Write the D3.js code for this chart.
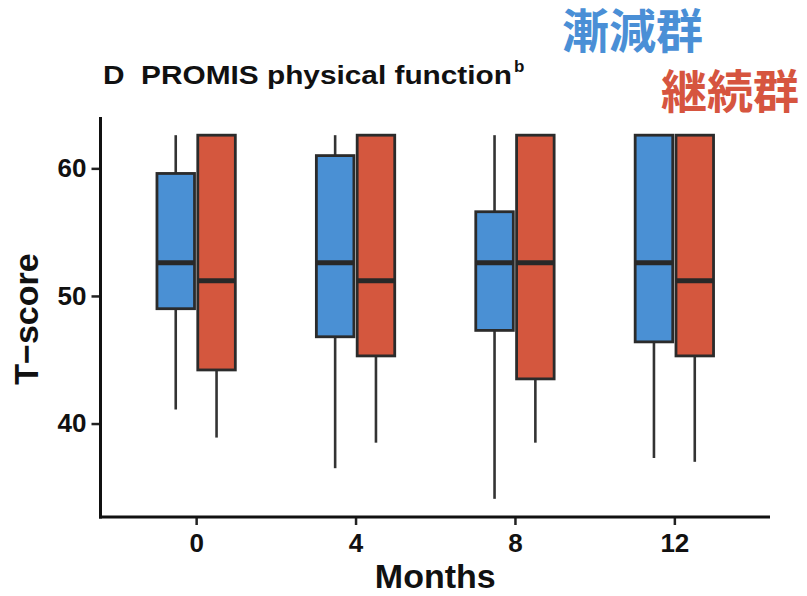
<!DOCTYPE html>
<html>
<head>
<meta charset="utf-8">
<script src="https://cdn.jsdelivr.net/npm/d3@7"></script>
<style>
  html, body { margin: 0; padding: 0; background: #ffffff; }
  svg { display: block; }
  text { font-family: "Liberation Sans", Arial, Helvetica, sans-serif; font-weight: bold; }
  .cjk { font-family: "Noto Sans CJK JP", "Noto Sans CJK SC", sans-serif; font-weight: bold; }
</style>
</head>
<body>
<svg id="chart" width="807" height="596"></svg>
<script>
// ---- data ----
const months = ["0", "4", "8", "12"];
const groups = ["漸減群", "継続群"];
const yTicks = [40, 50, 60];

// 漸減群 (taper group, blue)
const taperMin    = [41.1, 36.5, 34.1, 37.3];
const taperQ1     = [49.0, 46.8, 47.3, 46.4];
const taperMedian = [52.6, 52.6, 52.6, 52.6];
const taperQ3     = [59.6, 61.0, 56.6, 62.6];
const taperMax    = [62.6, 62.6, 62.6, 62.6];

// 継続群 (continuation group, red)
const contMin    = [38.9, 38.5, 38.5, 37.0];
const contQ1     = [44.2, 45.3, 43.5, 45.3];
const contMedian = [51.2, 51.2, 52.6, 51.2];
const contQ3     = [62.6, 62.6, 62.6, 62.6];
const contMax    = [62.6, 62.6, 62.6, 62.6];

const colors = ["#4a90d4", "#d4573e"];
const textColors = ["#4a8fd6", "#d6553f"];

// ---- build table ----
const series = [
  { min: taperMin, q1: taperQ1, med: taperMedian, q3: taperQ3, max: taperMax },
  { min: contMin,  q1: contQ1,  med: contMedian,  q3: contQ3,  max: contMax }
];
const boxes = [];
months.forEach((m, i) => {
  series.forEach((s, g) => {
    boxes.push({ month: m, group: g, min: s.min[i], q1: s.q1[i], med: s.med[i], q3: s.q3[i], max: s.max[i] });
  });
});

const svg = d3.select("#chart");
const pLeft = 100.5, pRight = 770, pTop = 117, pBottom = 517;

const allVals = boxes.flatMap(b => [b.min, b.max]);
const lo = d3.min(allVals), hi = d3.max(allVals);
const pad = (hi - lo) * 0.05;
const y = d3.scaleLinear().domain([lo - pad, hi + pad]).range([pBottom, pTop]);
const x = d3.scalePoint().domain(months).range([pLeft, pRight]).padding(0.6);
const dodge = d3.scaleBand().domain([0, 1]).range([-40, 40]).paddingInner(0.08).paddingOuter(0.02);

// ---- boxes ----
const g = svg.append("g");
const bw = dodge.bandwidth();
boxes.forEach(b => {
  const bx = x(b.month) + dodge(b.group);
  const cx = bx + bw / 2;
  g.append("line").attr("x1", cx).attr("x2", cx).attr("y1", y(b.max)).attr("y2", y(b.q3))
    .attr("stroke", "#333").attr("stroke-width", 2.6);
  g.append("line").attr("x1", cx).attr("x2", cx).attr("y1", y(b.q1)).attr("y2", y(b.min))
    .attr("stroke", "#333").attr("stroke-width", 2.6);
  g.append("rect").attr("x", bx).attr("y", y(b.q3)).attr("width", bw).attr("height", y(b.q1) - y(b.q3))
    .attr("fill", colors[b.group]).attr("stroke", "#2b2b2b").attr("stroke-width", 2.8);
  g.append("line").attr("x1", bx).attr("x2", bx + bw).attr("y1", y(b.med)).attr("y2", y(b.med))
    .attr("stroke", "#282828").attr("stroke-width", 5);
});

// ---- axes ----
const yAxis = svg.append("g").attr("transform", `translate(${pLeft},0)`)
  .call(d3.axisLeft(y).tickValues(yTicks).tickSize(9).tickPadding(5));
const xAxis = svg.append("g").attr("transform", `translate(0,${pBottom})`)
  .call(d3.axisBottom(x).tickSize(8).tickPadding(9));
[yAxis, xAxis].forEach(a => {
  a.select(".domain").remove();
  a.selectAll(".tick line").attr("stroke", "#222").attr("stroke-width", 2.5);
  a.selectAll(".tick text").attr("fill", "#111").style("font-size", "26px");
});
svg.append("line").attr("x1", pLeft).attr("x2", pLeft).attr("y1", pTop).attr("y2", pBottom + 1.5)
  .attr("stroke", "#111").attr("stroke-width", 3);
svg.append("line").attr("x1", pLeft - 1.5).attr("x2", pRight).attr("y1", pBottom).attr("y2", pBottom)
  .attr("stroke", "#111").attr("stroke-width", 3);

// ---- axis titles ----
svg.append("text").attr("x", (pLeft + pRight) / 2).attr("y", 588).attr("text-anchor", "middle")
  .style("font-size", "34px").attr("fill", "#111").text("Months");
svg.append("text").attr("transform", `translate(38,${(pTop + pBottom) / 2 + 2}) rotate(-90)`)
  .attr("text-anchor", "middle").style("font-size", "34px").attr("fill", "#111").text("T−score");

// ---- title ----
svg.append("text").attr("x", 103).attr("y", 84).style("font-size", "26px").attr("fill", "#111")
  .attr("textLength", 409).attr("lengthAdjust", "spacingAndGlyphs")
  .text("D\u00a0\u00a0PROMIS physical function");
svg.append("text").attr("x", 514).attr("y", 72).style("font-size", "17px").attr("fill", "#111").text("b");

// ---- group labels ----
svg.append("text").attr("class", "cjk").attr("x", 562).attr("y", 48).style("font-size", "47px")
  .attr("fill", textColors[0]).text(groups[0]);
svg.append("text").attr("class", "cjk").attr("x", 661).attr("y", 108).style("font-size", "46px")
  .attr("fill", textColors[1]).text(groups[1]);
</script>
</body>
</html>
